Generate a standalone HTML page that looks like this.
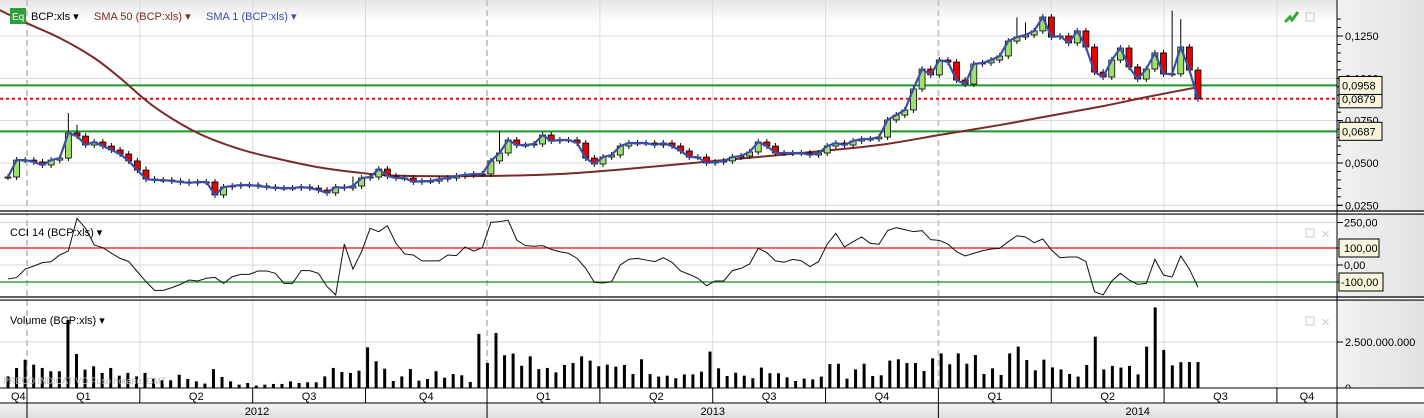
<!DOCTYPE html>
<html><head><meta charset="utf-8">
<style>
html,body{margin:0;padding:0;background:#fff;}
svg{display:block;font-family:"Liberation Sans",sans-serif;}
</style></head>
<body>
<svg id="chart" width="1424" height="418" viewBox="0 0 1424 418" xmlns="http://www.w3.org/2000/svg">
<defs>
<linearGradient id="axisGrad" x1="0" x2="1" y1="0" y2="0"><stop offset="0" stop-color="#f2f2f2"/><stop offset="1" stop-color="#e2e2e2"/></linearGradient>
<linearGradient id="topGrad" x1="0" x2="0" y1="0" y2="1"><stop offset="0" stop-color="#e6e6e6"/><stop offset="1" stop-color="#ffffff"/></linearGradient>
<linearGradient id="yearGrad" x1="0" x2="0" y1="0" y2="1"><stop offset="0" stop-color="#f4f4f4"/><stop offset="1" stop-color="#e0e0e0"/></linearGradient>
</defs>
<rect x="0" y="0" width="1337" height="22" fill="url(#topGrad)"/>
<rect x="1337" y="0" width="87" height="388" fill="url(#axisGrad)"/>
<g id="grid"></g>
<g id="main"></g>
<g id="cci"></g>
<g id="vol"></g>
<g id="axes"></g>
<g>
<rect x="10" y="8" width="16" height="16" fill="#2e9e3a"/>
<text x="12" y="20" font-size="10" fill="#fff">Eq</text>
<text x="31" y="20" font-size="11" fill="#000">BCP:xls ▾</text>
<text x="94" y="20" font-size="11" fill="#7b2a2a">SMA 50 (BCP:xls) ▾</text>
<text x="206" y="20" font-size="11" fill="#3b4fa8">SMA 1 (BCP:xls) ▾</text>
</g>
<path d="M1285 22 l5 -5 l2 3 l6 -8" stroke="#3aa83a" stroke-width="3" fill="none"/>
<rect x="1306" y="13" width="8" height="8" fill="none" stroke="#ccc"/>
<text x="10" y="236" font-size="11" fill="#000">CCI 14 (BCP:xls) ▾</text>
<rect x="1306" y="229" width="8" height="8" fill="none" stroke="#ccc"/>
<text x="1321" y="238" font-size="11" fill="#ccc">✕</text>
<text x="10" y="324" font-size="11" fill="#000">Volume (BCP:xls) ▾</text>
<rect x="1306" y="317" width="8" height="8" fill="none" stroke="#ccc"/>
<text x="1321" y="326" font-size="11" fill="#ccc">✕</text>
<text x="3" y="384" font-size="9" fill="#bbb">PRECO INDICATIVO    Fuso horario: GMT</text>
</svg>
<script>
const closes=[417,517,517,506,488,517,529,677,659,606,624,600,577,553,512,458,405,399,399,393,388,382,388,388,311,358,364,370,370,364,358,352,352,352,358,352,340,323,358,352,364,411,417,464,423,411,
411,388,393,393,405,411,423,429,435,435,512,559,636,606,606,612,665,630,636,636,
618,529,494,535,547,600,618,618,618,606,618,600,571,535,535,500,506,512,535,541,
565,624,600,559,559,559,559,547,559,600,618,606,630,642,642,653,754,783,813,937,
1055,1020,1108,1096,990,966,1085,1091,1108,1132,1220,1244,1256,1280,1362,1244,1250,1209,1280,1185,
1037,1008,1108,1179,1067,996,1055,1150,1026,1026,1185,1049,879].map(v=>v/10000);
const spikeIdx=[7,8,16,24,37,40,57,68,81,110,117,118,121,131,135,136];
const spikeHigh=[0.0795,0.0725,0.0480,0.0275,0.0300,0.0420,0.0690,0.0460,0.0430,0.0890,0.1360,0.1330,0.1290,0.0820,0.1400,0.1350];
const sma50Idx=[-1,2,6,10,13,17,22,27,32,36,40,45,55,64,73,83,92,101,108,115,120,127,132,138];
const sma50Vals=[0.1404,0.1330,0.1238,0.1120,0.1002,0.0830,0.0677,0.0580,0.0517,0.0475,0.0447,0.0425,0.0423,0.0435,0.0470,0.0517,0.0559,0.0606,0.0665,0.0724,0.0771,0.0836,0.0889,0.0948];
const cciVals=[-82,-74,-24,-6,14,20,59,82,274,216,118,102,69,39,20,-39,-98,-149,-149,-133,-114,-88,-94,-78,-73,-108,-69,-55,-55,-35,-35,-49,-108,-108,-33,-33,-49,-127,-176,123,-24,78,216,196,231,127,65,59,24,24,24,59,55,106,82,102,251,255,263,147,114,110,114,92,78,69,39,-20,-102,-106,-98,0,
33,39,29,20,43,16,-35,-55,-78,-122,-94,-94,-33,-20,6,98,73,24,16,33,25,-10,20,123,186,106,137,165,127,122,202,220,208,196,202,149,145,123,78,53,69,84,94,98,137,172,165,131,153,88,43,47,47,20,-157,-176,-94,-49,-88,-114,-108,33,-59,-71,53,-24,-131];
const volumes=[0.63,1.09,1.54,1.27,1.09,0.91,0.91,3.71,1.85,1.0,1.18,0.82,1.09,0.67,0.82,0.63,0.82,0.51,0.42,0.42,0.72,0.49,0.36,0.24,1.03,0.6,0.36,0.18,0.27,0.13,0.18,0.22,0.22,0.36,0.27,0.31,0.31,0.63,1.09,0.87,0.82,0.94,2.21,1.45,1.05,0.38,0.63,1.03,0.4,0.49,0.91,0.56,0.76,0.69,0.33,2.94,1.36,2.99,1.78,1.87,1.21,1.72,1.03,1.09,0.85,1.25,1.36,1.72,1.49,1.18,1.27,
1.16,1.25,0.76,1.56,0.76,0.62,0.67,0.53,0.74,0.74,0.89,1.98,1.07,0.65,0.83,0.67,0.53,1.11,0.80,0.80,0.58,0.38,0.51,0.47,0.62,1.30,1.32,0.51,1.01,1.32,0.65,0.69,1.49,1.56,1.36,1.36,0.92,1.61,1.88,1.29,1.88,1.32,1.79,0.76,1.07,0.71,1.88,2.25,1.52,0.96,1.54,1.12,1.01,0.76,0.62,1.25,2.79,1.01,1.20,1.11,1.20,0.74,2.25,4.38,2.07,1.23,1.40,1.41,1.41];
const priceTicks=[0.125,0.1,0.075,0.05,0.025];
const priceTickLabels=["0,1250","0,1000","0,0750","0,0500","0,0250"];
const levelVals=[0.0958,0.0879,0.0687];
const levelLabels=["0,0958","0,0879","0,0687"];
const cciTicks=[250,100,0,-100];
const cciTickLabels=["250,00","100,00","0,00","-100,00"];
const volTicks=[2.5,0];
const volTickLabels=["2.500.000.000","0"];
const quarterLabels=["Q4","Q1","Q2","Q3","Q4","Q1","Q2","Q3","Q4","Q1","Q2","Q3","Q4"];
const quarterStarts=[-2,0,13,26,39,53,66,79,92,105,118,131,144];
const yearLabels=["2012","2013","2014"];
const yearStarts=[0,53,105];

const NS="http://www.w3.org/2000/svg";
function mk(tag,attrs,parent){const e=document.createElementNS(NS,tag);for(const k in attrs)e.setAttribute(k,attrs[k]);parent.appendChild(e);return e;}
const X0=8,X1=1198;
const xP=i=>X0+i*(X1-X0)/(closes.length-1);
const xC=i=>X0+i*(X1-X0)/(cciVals.length-1);
const xV=i=>X0+i*(X1-X0)/(volumes.length-1);
const xQ=w=>27+w*8.68;
const yP=v=>36+(0.125-v)*1693;
const yC=v=>265-v*0.17;
const yV=v=>388-v*18.4;
const grid=document.getElementById('grid'),main=document.getElementById('main'),cci=document.getElementById('cci'),vol=document.getElementById('vol'),axes=document.getElementById('axes');

priceTicks.forEach(t=>{const l=mk('line',{x1:0,x2:1337,y1:yP(t),y2:yP(t),stroke:'#d8d8d8'},grid);

});
cciTicks.forEach(t=>{const l=mk('line',{x1:0,x2:1337,y1:yC(t),y2:yC(t),stroke:'#d8d8d8'},grid);

});
volTicks.forEach(t=>{const l=mk('line',{x1:0,x2:1337,y1:yV(t),y2:yV(t),stroke:'#d8d8d8'},grid);

});
quarterStarts.forEach((w,k)=>{if(k===0)return;const x=xQ(w);if(x>1337)return;
const isYear=yearStarts.includes(w);
const l=mk('line',{x1:x,x2:x,y1:0,y2:388,stroke:isYear?'#c8c8c8':'#dcdcdc','stroke-width':isYear?2:1,'stroke-dasharray':isYear?'6,4':''},grid);

});

levelVals.forEach((v,k)=>{const red=k===1;
const l=mk('line',{x1:0,x2:1337,y1:yP(v),y2:yP(v),stroke:red?'#e01010':'#1a9a2a','stroke-width':2,'stroke-dasharray':red?'3,3':''},main);

});

// SMA50 smoothed (Catmull-Rom)
const pts=sma50Idx.map((i,k)=>[xP(i),yP(sma50Vals[k])]);
let d='M'+pts[0][0]+' '+pts[0][1];
for(let k=0;k<pts.length-1;k++){const p0=pts[Math.max(0,k-1)],p1=pts[k],p2=pts[k+1],p3=pts[Math.min(pts.length-1,k+2)];
d+='C'+(p1[0]+(p2[0]-p0[0])/6)+' '+(p1[1]+(p2[1]-p0[1])/6)+' '+(p2[0]-(p3[0]-p1[0])/6)+' '+(p2[1]-(p3[1]-p1[1])/6)+' '+p2[0]+' '+p2[1];}
const sma=mk('path',{d:d,fill:'none',stroke:'#7b2a2a','stroke-width':2},main);



closes.forEach((c,i)=>{const o=i?closes[i-1]:c;const x=xP(i);
const top=Math.min(yP(o),yP(c)),bot=Math.max(yP(o),yP(c));
const si=spikeIdx.indexOf(i);let hy=top-3;if(si>=0)hy=Math.min(hy,yP(spikeHigh[si]));
const w=mk('line',{x1:x,x2:x,y1:hy,y2:bot+3,stroke:'#000'},main);


const r=mk('rect',{x:x-3,y:top,width:6,height:Math.max(1,bot-top),fill:c>=o?'#9ee06e':'#e60000',stroke:'#000','stroke-width':0.8},main);

});

d='';closes.forEach((c,i)=>{d+=(i?'L':'M')+xP(i)+' '+yP(c);});
const s1=mk('path',{d:d,fill:'none',stroke:'#3b4fa8','stroke-width':2.2},main);



[[100,'#e01010'],[-100,'#1a8a1a']].forEach(([v,c])=>{const l=mk('line',{x1:0,x2:1337,y1:yC(v),y2:yC(v),stroke:c,'stroke-width':1.2},cci);

});
d='';cciVals.forEach((v,i)=>{d+=(i?'L':'M')+xC(i)+' '+yC(v);});
const cl=mk('path',{d:d,fill:'none',stroke:'#111','stroke-width':1},cci);



volumes.forEach((v,i)=>{const r=mk('rect',{x:xV(i)-1.5,y:yV(v),width:3,height:388-yV(v),fill:'#000'},vol);

});

[[211,214],[297,300]].forEach(p=>p.forEach(y=>{const l=mk('line',{x1:0,x2:1424,y1:y,y2:y,stroke:'#000','stroke-width':1.2},axes);

}));
mk('rect',{x:0,y:212,width:1424,height:1.5,fill:'#fff'},axes);
mk('rect',{x:0,y:298,width:1424,height:1.5,fill:'#fff'},axes);
const ax=mk('line',{x1:1337,x2:1337,y1:0,y2:388,stroke:'#000'},axes);



for(let v=0.02;v<=0.14;v+=0.005){const y=yP(v);if(y<2||y>210)continue;mk('line',{x1:1337,x2:1341,y1:y,y2:y,stroke:'#000'},axes);}
priceTicks.forEach((t,k)=>{mk('line',{x1:1337,x2:1343,y1:yP(t),y2:yP(t),stroke:'#000'},axes);
const tx=mk('text',{x:1345,y:yP(t)+4,'font-size':11,fill:'#000'},axes);tx.textContent=priceTickLabels[k];

});
[1,0,2].forEach(k=>{const y=yP(levelVals[k]);
const b=mk('rect',{x:1339,y:y-9,width:43,height:18,fill:'#f7f5dc',stroke:'#000'},axes);


const tx=mk('text',{x:1342,y:y+4,'font-size':11,fill:'#000'},axes);tx.textContent=levelLabels[k];

});
cciTicks.forEach((t,k)=>{const y=yC(t);mk('line',{x1:1337,x2:1343,y1:y,y2:y,stroke:'#000'},axes);
if(Math.abs(t)===100){const b=mk('rect',{x:1339,y:y-9,width:t<0?44:40,height:18,fill:'#f7f5dc',stroke:'#000'},axes);

}
const tx=mk('text',{x:t<0?1341:1344,y:y+4,'font-size':11,fill:'#000'},axes);tx.textContent=cciTickLabels[k];

});
volTicks.forEach((t,k)=>{const y=yV(t);mk('line',{x1:1337,x2:1343,y1:y,y2:y,stroke:'#000'},axes);
const tx=mk('text',{x:1345,y:y+4,'font-size':11,fill:'#000'},axes);tx.textContent=volTickLabels[k];

});

mk('rect',{x:0,y:388,width:1424,height:15,fill:'#fff'},axes);
mk('rect',{x:0,y:403,width:1424,height:15,fill:'url(#yearGrad)'},axes);
[388,403].forEach(y=>mk('line',{x1:0,x2:1424,y1:y,y2:y,stroke:'#000'},axes));
quarterStarts.forEach((w,k)=>{const x=Math.max(0,xQ(w));const nx=k+1<quarterStarts.length?xQ(quarterStarts[k+1]):1337;
if(k>0&&x<1337)mk('line',{x1:x,x2:x,y1:388,y2:403,stroke:'#000'},axes);
const tx=mk('text',{x:(x+Math.min(nx,1337))/2,y:400,'font-size':11,fill:'#000','text-anchor':'middle'},axes);tx.textContent=quarterLabels[k];

});
mk('line',{x1:1337,x2:1337,y1:388,y2:418,stroke:'#000'},axes);
yearStarts.forEach((w,k)=>{const x=xQ(w);const nx=k+1<yearStarts.length?xQ(yearStarts[k+1]):1337;
mk('line',{x1:x,x2:x,y1:403,y2:418,stroke:'#000'},axes);
const tx=mk('text',{x:(x+nx)/2,y:415,'font-size':11,fill:'#000','text-anchor':'middle'},axes);tx.textContent=yearLabels[k];

});
</script>
</body></html>
